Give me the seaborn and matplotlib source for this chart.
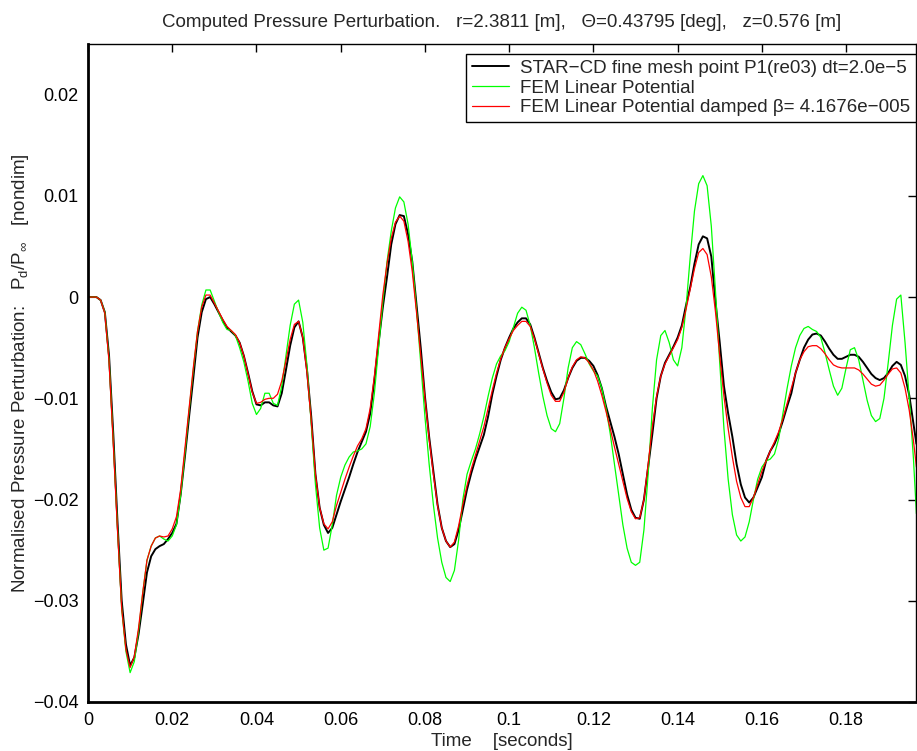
import numpy as np
import pandas as pd
import matplotlib
matplotlib.use("Agg")
import matplotlib.pyplot as plt
import seaborn as sns

# ---------------- data ----------------
time_s = [i / 1000 for i in range(197)] + [0.1967]

star_cd = [
    0.0, 0.0, 0.0, -0.0003, -0.0015, -0.0058, -0.0135, -0.0222, -0.0300, -0.0343,
    -0.0364, -0.0356, -0.0333, -0.0303, -0.0272, -0.0256, -0.0249, -0.0246, -0.0244, -0.0239,
    -0.0233, -0.0224, -0.0195, -0.0158, -0.0118, -0.0080, -0.0040, -0.0015, -0.0002, 0.0000,
    -0.0007, -0.0015, -0.0023, -0.0030, -0.0034, -0.0038, -0.0045, -0.0058, -0.0075, -0.0093,
    -0.0106, -0.0107, -0.0104, -0.0104, -0.0107, -0.0108, -0.0095, -0.0072, -0.0048, -0.0030,
    -0.0024, -0.0040, -0.0072, -0.0118, -0.0175, -0.0208, -0.0225, -0.0233, -0.0228, -0.0215,
    -0.0202, -0.0190, -0.0178, -0.0165, -0.0153, -0.0143, -0.0133, -0.0115, -0.0082, -0.0045,
    -0.0010, 0.0020, 0.0052, 0.0072, 0.0081, 0.0080, 0.0062, 0.0035, -0.0008, -0.0050,
    -0.0098, -0.0138, -0.0172, -0.0205, -0.0228, -0.0241, -0.0247, -0.0244, -0.0230, -0.0210,
    -0.0190, -0.0174, -0.0160, -0.0148, -0.0136, -0.0118, -0.0096, -0.0078, -0.0062, -0.0050,
    -0.0040, -0.0031, -0.0025, -0.0021, -0.0021, -0.0027, -0.0040, -0.0055, -0.0070, -0.0083,
    -0.0094, -0.0101, -0.0100, -0.0092, -0.0080, -0.0070, -0.0063, -0.0060, -0.0060, -0.0063,
    -0.0068, -0.0077, -0.0090, -0.0108, -0.0123, -0.0138, -0.0155, -0.0175, -0.0195, -0.0210,
    -0.0218, -0.0219, -0.0200, -0.0168, -0.0135, -0.0100, -0.0078, -0.0065, -0.0057, -0.0049,
    -0.0040, -0.0028, -0.0008, 0.0010, 0.0033, 0.0052, 0.0060, 0.0058, 0.0040, -0.0005,
    -0.0045, -0.0088, -0.0115, -0.0138, -0.0165, -0.0185, -0.0198, -0.0203, -0.0198, -0.0188,
    -0.0178, -0.0162, -0.0152, -0.0145, -0.0135, -0.0122, -0.0108, -0.0095, -0.0075, -0.0062,
    -0.0050, -0.0042, -0.0037, -0.0036, -0.0038, -0.0044, -0.0051, -0.0057, -0.0061, -0.0061,
    -0.0059, -0.0057, -0.0057, -0.0059, -0.0064, -0.0070, -0.0076, -0.0080, -0.0082, -0.0080,
    -0.0075, -0.0068, -0.0064, -0.0067, -0.0078, -0.0097, -0.0125, -0.0145,
]

fem_linear = [
    0.0, 0.0, 0.0, -0.0003, -0.0015, -0.0062, -0.0142, -0.0228, -0.0308, -0.0350,
    -0.0371, -0.0360, -0.0330, -0.0292, -0.0260, -0.0246, -0.0238, -0.0236, -0.0239, -0.0241,
    -0.0236, -0.0225, -0.0196, -0.0155, -0.0112, -0.0072, -0.0034, -0.0008, 0.0007, 0.0007,
    -0.0004, -0.0015, -0.0025, -0.0032, -0.0033, -0.0038, -0.0050, -0.0064, -0.0083, -0.0105,
    -0.0116, -0.0110, -0.0095, -0.0095, -0.0105, -0.0107, -0.0088, -0.0058, -0.0028, -0.0007,
    -0.0003, -0.0025, -0.0068, -0.0125, -0.0185, -0.0228, -0.0250, -0.0248, -0.0225, -0.0196,
    -0.0178, -0.0166, -0.0158, -0.0153, -0.0152, -0.0150, -0.0145, -0.0128, -0.0095, -0.0050,
    -0.0005, 0.0035, 0.0065, 0.0088, 0.0099, 0.0094, 0.0072, 0.0035, -0.0012, -0.0065,
    -0.0118, -0.0165, -0.0205, -0.0238, -0.0262, -0.0277, -0.0281, -0.0270, -0.0240, -0.0200,
    -0.0175, -0.0162, -0.0150, -0.0135, -0.0118, -0.0098, -0.0080, -0.0066, -0.0058, -0.0053,
    -0.0044, -0.0030, -0.0016, -0.0010, -0.0013, -0.0028, -0.0050, -0.0075, -0.0098, -0.0117,
    -0.0130, -0.0133, -0.0125, -0.0100, -0.0070, -0.0050, -0.0044, -0.0047, -0.0056, -0.0066,
    -0.0073, -0.0078, -0.0090, -0.0110, -0.0135, -0.0165, -0.0195, -0.0225, -0.0248, -0.0262,
    -0.0265, -0.0262, -0.0230, -0.0175, -0.0110, -0.0062, -0.0038, -0.0033, -0.0045, -0.0062,
    -0.0068, -0.0050, -0.0010, 0.0040, 0.0085, 0.0112, 0.0120, 0.0110, 0.0070, 0.0005,
    -0.0065, -0.0130, -0.0180, -0.0215, -0.0235, -0.0241, -0.0237, -0.0222, -0.0200, -0.0180,
    -0.0168, -0.0162, -0.0160, -0.0155, -0.0140, -0.0115, -0.0090, -0.0068, -0.0050, -0.0038,
    -0.0031, -0.0029, -0.0032, -0.0034, -0.0040, -0.0055, -0.0072, -0.0088, -0.0097, -0.0090,
    -0.0070, -0.0052, -0.0050, -0.0062, -0.0082, -0.0102, -0.0117, -0.0123, -0.0120, -0.0100,
    -0.0065, -0.0028, -0.0002, 0.0002, -0.0045, -0.0100, -0.0160, -0.0214,
]

fem_damped = [
    0.0, 0.0, 0.0, -0.0003, -0.0016, -0.0064, -0.0145, -0.0230, -0.0308, -0.0348,
    -0.0366, -0.0355, -0.0327, -0.0292, -0.0260, -0.0246, -0.0238, -0.0236, -0.0237, -0.0236,
    -0.0229, -0.0217, -0.0190, -0.0150, -0.0110, -0.0070, -0.0034, -0.0010, 0.0002, 0.0002,
    -0.0006, -0.0014, -0.0022, -0.0029, -0.0033, -0.0037, -0.0045, -0.0058, -0.0076, -0.0094,
    -0.0105, -0.0104, -0.0101, -0.0100, -0.0100, -0.0096, -0.0083, -0.0063, -0.0042, -0.0027,
    -0.0024, -0.0040, -0.0075, -0.0122, -0.0175, -0.0208, -0.0224, -0.0229, -0.0222, -0.0206,
    -0.0193, -0.0180, -0.0168, -0.0157, -0.0147, -0.0140, -0.0130, -0.0110, -0.0078, -0.0038,
    0.0002, 0.0033, 0.0058, 0.0074, 0.0080, 0.0075, 0.0055, 0.0025, -0.0015, -0.0058,
    -0.0100, -0.0140, -0.0175, -0.0206, -0.0228, -0.0241, -0.0247, -0.0242, -0.0226, -0.0205,
    -0.0186, -0.0170, -0.0156, -0.0142, -0.0128, -0.0110, -0.0092, -0.0075, -0.0061, -0.0050,
    -0.0041, -0.0033, -0.0028, -0.0024, -0.0024, -0.0029, -0.0041, -0.0056, -0.0071, -0.0085,
    -0.0097, -0.0103, -0.0103, -0.0094, -0.0080, -0.0069, -0.0062, -0.0059, -0.0060, -0.0065,
    -0.0072, -0.0083, -0.0097, -0.0113, -0.0130, -0.0148, -0.0165, -0.0182, -0.0199, -0.0212,
    -0.0219, -0.0218, -0.0200, -0.0165, -0.0128, -0.0098, -0.0078, -0.0066, -0.0058, -0.0050,
    -0.0042, -0.0030, -0.0012, 0.0008, 0.0028, 0.0044, 0.0048, 0.0042, 0.0020, -0.0015,
    -0.0058, -0.0098, -0.0130, -0.0158, -0.0182, -0.0198, -0.0207, -0.0207, -0.0198, -0.0185,
    -0.0172, -0.0162, -0.0152, -0.0143, -0.0133, -0.0120, -0.0105, -0.0090, -0.0075, -0.0062,
    -0.0054, -0.0049, -0.0048, -0.0048, -0.0051, -0.0056, -0.0062, -0.0067, -0.0069, -0.0070,
    -0.0070, -0.0070, -0.0070, -0.0072, -0.0076, -0.0081, -0.0086, -0.0088, -0.0087, -0.0082,
    -0.0076, -0.0071, -0.0070, -0.0075, -0.0090, -0.0112, -0.0142, -0.0168,
]

series_names = [
    "STAR\u2212CD fine mesh point P1(re03) dt=2.0e\u22125",
    "FEM Linear Potential",
    "FEM Linear Potential damped \u03b2= 4.1676e\u2212005",
]
series_colors = ["#000000", "#00ff00", "#ff0000"]
series_widths = [1.4, 0.9, 0.9]

x_ticks = [0, 0.02, 0.04, 0.06, 0.08, 0.1, 0.12, 0.14, 0.16, 0.18]
x_tick_labels = ["0", "0.02", "0.04", "0.06", "0.08", "0.1", "0.12", "0.14", "0.16", "0.18"]
y_ticks = [-0.04, -0.03, -0.02, -0.01, 0, 0.01, 0.02]
y_tick_labels = ["\u22120.04", "\u22120.03", "\u22120.02", "\u22120.01", "0", "0.01", "0.02"]

title_text = ("Computed Pressure Perturbation.   r=2.3811 [m],   \u0398=0.43795 [deg],   "
              "z=0.576 [m]")
x_label = "Time    [seconds]"
y_label = r"Normalised Pressure Perturbation:   P$_\mathrm{d}$/P$_\infty$   [nondim]"

# ---------------- plot ----------------
sns.set_theme(style="white")
plt.rcParams["font.family"] = ["Liberation Sans", "DejaVu Sans"]
plt.rcParams["mathtext.fontset"] = "custom"
plt.rcParams["mathtext.rm"] = "Liberation Sans"
plt.rcParams["mathtext.it"] = "Liberation Sans:italic"

fig = plt.figure(figsize=(9.17, 7.51), dpi=100)
ax = fig.add_axes([88 / 917, 1 - 702 / 751, (916 - 88) / 917, (702 - 44) / 751])

frames = []
for name, vals in zip(series_names, [star_cd, fem_linear, fem_damped]):
    frames.append(pd.DataFrame({"t": time_s, "p": vals, "series": name}))
df = pd.concat(frames, ignore_index=True)

for name, col, lw in zip(series_names, series_colors, series_widths):
    sns.lineplot(data=df[df["series"] == name], x="t", y="p", color=col,
                 linewidth=lw, label=name, ax=ax, sort=False, estimator=None)

ax.set_xlim(0, 0.1966)
ax.set_ylim(-0.04, 0.025)
ax.set_xticks(x_ticks)
ax.set_xticklabels(x_tick_labels)
ax.set_yticks(y_ticks)
ax.set_yticklabels(y_tick_labels)
ax.tick_params(direction="in", top=True, right=True, length=5.5, width=1,
               labelsize=13, pad=7, colors="black")

for side in ["top", "right"]:
    ax.spines[side].set_linewidth(1.0)
    ax.spines[side].set_color("black")
for side in ["left", "bottom"]:
    ax.spines[side].set_linewidth(2.0)
    ax.spines[side].set_color("black")

ax.set_title(title_text, fontsize=13.5, pad=12)
ax.set_xlabel(x_label, fontsize=13.5, labelpad=3)
ax.set_ylabel(y_label, fontsize=13.5, labelpad=1)

leg = ax.legend(loc="upper right", bbox_to_anchor=(1.0, 0.985), borderaxespad=0,
                fontsize=13.5, frameon=True, fancybox=False, framealpha=1,
                edgecolor="black", handlelength=2.0, handletextpad=0.6,
                labelspacing=0.15, borderpad=0.3)
leg.get_frame().set_linewidth(1.0)

fig.savefig("out.png", dpi=100)
